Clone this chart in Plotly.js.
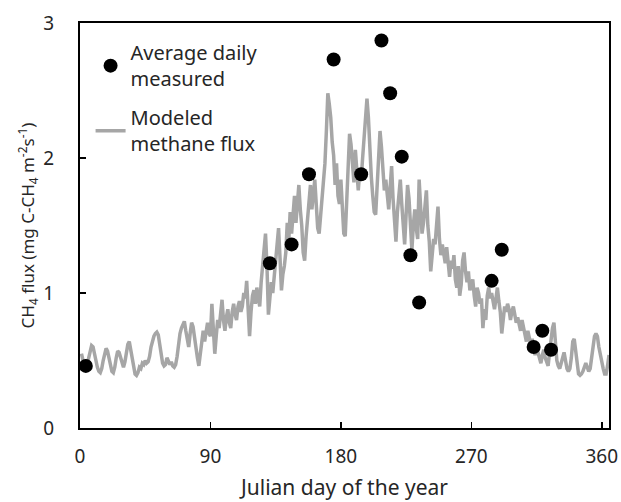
<!DOCTYPE html>
<html>
<head>
<meta charset="utf-8">
<script src="https://cdn.plot.ly/plotly-3.0.1.min.js"></script>
<style>
html,body{margin:0;padding:0;background:#fff;}
#chart{width:621px;height:502px;}
</style>
</head>
<body>
<div id="chart"></div>
<script>
// Measured points (Julian day, flux)
const measuredDays = [4, 131, 146, 158, 175, 194, 208, 214, 222, 228, 234, 284, 291, 313, 319, 325];
const measuredFlux = [0.46, 1.22, 1.36, 1.88, 2.73, 1.88, 2.87, 2.48, 2.01, 1.28, 0.93, 1.09, 1.32, 0.60, 0.72, 0.58];

// Modeled daily flux, days 1..365
const modeledFlux = [
  0.55,0.50,0.46,0.44,0.47,0.52,0.58,0.61,0.60,0.56,
  0.50,0.45,0.42,0.41,0.44,0.50,0.56,0.59,0.57,0.52,
  0.46,0.42,0.41,0.45,0.52,0.57,0.56,0.52,0.48,0.45,
  0.49,0.56,0.62,0.64,0.58,0.50,0.44,0.40,0.39,0.41,
  0.45,0.44,0.48,0.47,0.50,0.48,0.49,0.53,0.60,0.65,
  0.68,0.70,0.71,0.69,0.62,0.54,0.48,0.46,0.47,0.52,
  0.50,0.47,0.49,0.46,0.45,0.47,0.53,0.62,0.70,0.74,
  0.77,0.79,0.72,0.66,0.60,0.70,0.78,0.75,0.66,0.62,
  0.52,0.46,0.55,0.66,0.72,0.64,0.70,0.78,0.70,0.68,
  0.92,0.76,0.55,0.68,0.80,0.74,0.86,0.95,0.80,0.72,
  0.82,0.88,0.78,0.74,0.86,0.92,0.84,0.80,0.90,0.94,
  0.86,0.90,1.00,0.96,1.09,0.88,0.68,0.86,0.98,1.02,
  0.92,1.04,0.98,0.90,1.08,1.18,1.30,1.44,1.20,0.84,
  0.96,1.08,1.00,1.12,1.28,1.40,1.48,1.26,1.02,1.14,
  1.20,1.30,1.52,1.38,1.60,1.44,1.58,1.72,1.52,1.68,
  1.80,1.62,1.50,1.30,1.24,1.42,1.56,1.70,1.80,1.62,
  1.76,1.84,1.66,1.48,1.44,1.58,1.64,1.78,1.96,2.20,
  2.48,2.40,2.30,2.12,2.02,1.80,1.96,1.72,1.66,1.84,
  1.60,1.44,1.42,1.70,2.04,2.18,2.10,1.96,1.82,2.06,
  1.92,1.76,1.90,1.84,2.00,2.14,2.28,2.44,2.30,2.02,
  1.86,1.72,1.60,1.58,1.80,2.02,2.20,2.08,1.90,1.76,
  1.84,1.70,1.62,1.78,1.94,1.70,1.52,1.38,1.60,1.72,
  1.84,1.66,1.50,1.36,1.58,1.80,1.70,1.44,1.32,1.50,
  1.62,1.48,1.40,1.84,1.60,1.44,1.52,1.62,1.76,1.50,
  1.38,1.16,1.30,1.40,1.36,1.52,1.64,1.40,1.28,1.36,
  1.30,1.22,1.34,1.20,1.12,1.24,1.18,1.28,1.10,1.04,
  1.20,0.98,1.06,1.24,1.30,1.16,1.08,1.16,1.02,1.06,
  1.10,0.98,0.90,1.04,1.00,0.92,0.96,0.74,0.88,0.80,
  0.98,1.04,0.96,1.00,0.92,0.88,0.96,1.04,0.94,0.86,
  0.70,0.84,0.90,0.86,0.92,0.88,0.80,0.86,0.90,0.84,
  0.78,0.82,0.76,0.72,0.80,0.74,0.70,0.64,0.72,0.68,
  0.62,0.66,0.58,0.54,0.60,0.56,0.50,0.48,0.54,0.58,
  0.52,0.48,0.46,0.56,0.66,0.74,0.78,0.60,0.50,0.46,
  0.44,0.48,0.52,0.56,0.50,0.44,0.42,0.44,0.52,0.64,
  0.66,0.56,0.44,0.40,0.39,0.40,0.42,0.46,0.48,0.45,
  0.42,0.44,0.52,0.62,0.68,0.70,0.68,0.60,0.54,0.50,
  0.44,0.40,0.40,0.46,0.54
];
const modeledDays = modeledFlux.map((v, i) => i + 1);

const xTickVals = [0, 90, 180, 270, 360];
const yTickVals = [0, 1, 2, 3];

const FONT = "'Noto Sans', 'Open Sans', sans-serif";
const TEXT = '#262626';

const traces = [
  {
    x: modeledDays, y: modeledFlux, type: 'scatter', mode: 'lines',
    name: 'Modeled<br>methane flux', legendrank: 2, legendgroup: 'b',
    line: {color: '#a6a6a6', width: 3.5}
  },
  {
    x: measuredDays, y: measuredFlux, type: 'scatter', mode: 'markers',
    name: 'Average daily<br>measured', legendrank: 1, legendgroup: 'a',
    marker: {color: '#000000', size: 14}
  }
];

const layout = {
  width: 621, height: 502,
  margin: {l: 80, r: 12, t: 23, b: 74},
  paper_bgcolor: '#ffffff', plot_bgcolor: '#ffffff',
  font: {family: FONT, color: TEXT, size: 18},
  showlegend: true,
  legend: {
    x: 0.02, y: 0.975, xanchor: 'left', yanchor: 'top',
    bgcolor: 'rgba(255,255,255,0)', font: {size: 20, color: TEXT},
    valign: 'middle', tracegroupgap: 10
  },
  xaxis: {
    range: [0, 365], tickmode: 'array', tickvals: xTickVals,
    ticks: 'inside', ticklen: 6, tickwidth: 1.5, tickcolor: '#000',
    showline: true, linecolor: '#000', linewidth: 2, mirror: true,
    showgrid: false, zeroline: false, ticklabelstandoff: 10,
    tickfont: {size: 19, color: TEXT},
    title: {text: 'Julian day of the year', font: {size: 21, color: TEXT}, standoff: 13}
  },
  yaxis: {
    range: [0, 3], tickmode: 'array', tickvals: yTickVals,
    ticks: 'inside', ticklen: 6, tickwidth: 1.5, tickcolor: '#000',
    showline: true, linecolor: '#000', linewidth: 2, mirror: true,
    showgrid: false, zeroline: false, ticklabelstandoff: 20,
    tickfont: {size: 19, color: TEXT},
    title: {text: 'CH<sub>4</sub> flux (mg C-CH<sub>4</sub> m<sup>-2</sup>s<sup>-1</sup>)', font: {size: 17, color: TEXT}, standoff: 4}
  }
};

Plotly.newPlot('chart', traces, layout, {displayModeBar: false, staticPlot: true});
</script>
</body>
</html>
